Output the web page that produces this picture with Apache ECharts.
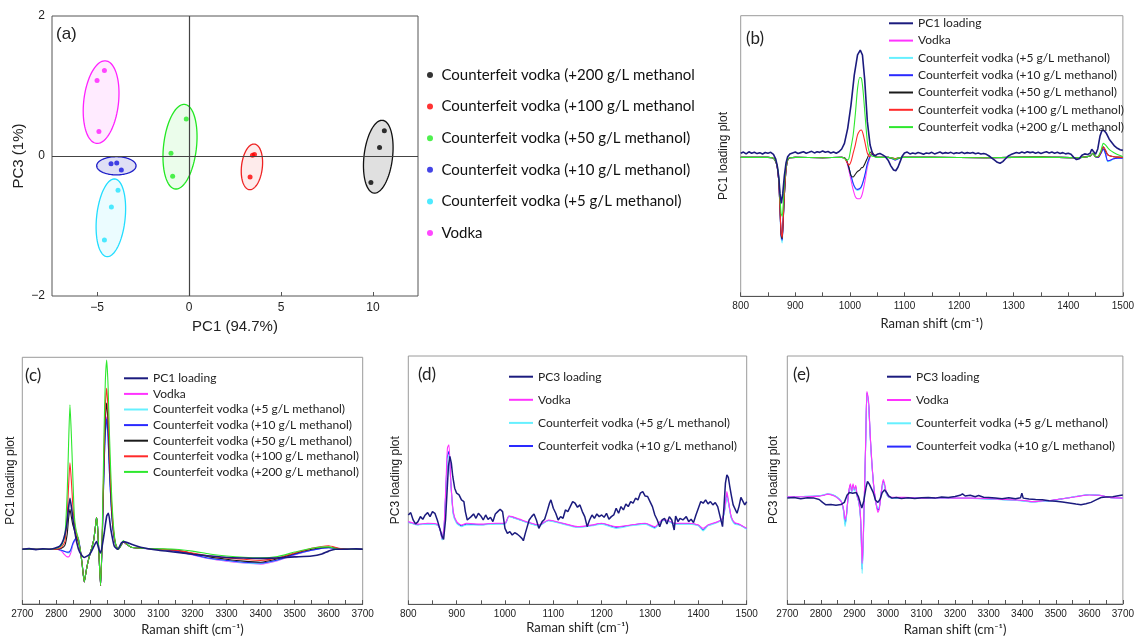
<!DOCTYPE html>
<html><head><meta charset="utf-8">
<script src="https://cdn.jsdelivr.net/npm/echarts@6/dist/echarts.min.js"></script>
<style>
html,body{margin:0;padding:0;background:#fff;width:1137px;height:637px;overflow:hidden}
.c{position:absolute;left:0;top:0;width:1137px;height:637px}
</style>
</head><body>
<div id="pa" class="c"></div><div id="pb" class="c"></div><div id="pc" class="c"></div><div id="pd" class="c"></div><div id="pe" class="c"></div>
<script>
// ---------- names ----------
const N_PC1 = 'PC1 loading', N_PC3 = 'PC3 loading', N_V = 'Vodka';
const N5 = 'Counterfeit vodka (+5 g/L methanol)', N10 = 'Counterfeit vodka (+10 g/L methanol)';
const N50 = 'Counterfeit vodka (+50 g/L methanol)', N100 = 'Counterfeit vodka (+100 g/L methanol)', N200 = 'Counterfeit vodka (+200 g/L methanol)';
const A200 = 'Counterfeit vodka (+200 g/L methanol', A100 = 'Counterfeit vodka (+100 g/L methanol';

// ---------- panel (a): PCA scores [PC1, PC3] ----------
const aBlack = [[10.62, 0.36], [10.36, 0.12], [9.89, -0.38]];
const aRed = [[3.45, 0.01], [3.56, 0.02], [3.32, -0.30]];
const aGreen = [[-0.15, 0.53], [-0.98, 0.04], [-0.89, -0.29]];
const aBlue = [[-4.24, -0.11], [-3.93, -0.10], [-3.68, -0.20]];
const aCyan = [[-3.86, -0.49], [-4.22, -0.73], [-4.60, -1.20]];
const aMagenta = [[-4.60, 1.22], [-5.00, 1.08], [-4.90, 0.35]];
// confidence ellipses: [centre PC1, centre PC3, half-width PC1, half-height PC3, skew PC1]
const eBlack = [10.29, -0.01, 0.78, 0.52, 0.20];
const eRed = [3.42, -0.155, 0.57, 0.326, 0.11];
const eGreen = [-0.49, 0.133, 0.90, 0.605, 0.22];
const eBlue = [-3.95, -0.14, 1.07, 0.13, 0.0];
const eCyan = [-4.25, -0.883, 0.78, 0.555, 0.19];
const eMagenta = [-4.78, 0.77, 0.95, 0.59, 0.21];
const aXTicks = [-5, 0, 5, 10];

// ---------- panel (b): 800-1500 cm-1, PC1 ----------
const bX = [800, 850, 858, 863, 867, 870, 872, 874, 876, 878, 880, 883, 886, 890, 900, 950, 985, 990, 994, 998,
  1002, 1006, 1010, 1014, 1018, 1021, 1024, 1028, 1032, 1036, 1040, 1045, 1050, 1070, 1078, 1083, 1088, 1095, 1150, 1250,
  1350, 1415, 1425, 1440, 1445, 1450, 1455, 1460, 1464, 1468, 1472, 1477, 1483, 1490, 1500];
const bVodka = [-0.01, -0.01, -0.012, -0.03, -0.08, -0.2, -0.38, -0.55, -0.6, -0.45, -0.28, -0.1, -0.03, -0.012, -0.01, -0.012, -0.01, -0.012, -0.04, -0.1,
  -0.17, -0.24, -0.29, -0.305, -0.305, -0.29, -0.25, -0.17, -0.08, -0.02, 0.015, 0.0, -0.01, -0.01, -0.02, -0.03, -0.02, -0.01, -0.01, -0.012,
  -0.008, -0.012, -0.01, 0.0, 0.02, -0.005, -0.01, 0.02, 0.055, 0.02, -0.035, -0.03, -0.02, -0.015, -0.015];
const bM5 = [-0.01, -0.01, -0.012, -0.03, -0.08, -0.2, -0.4, -0.58, -0.62, -0.46, -0.28, -0.1, -0.03, -0.012, -0.01, -0.012, -0.01, -0.012, -0.035, -0.08,
  -0.14, -0.2, -0.235, -0.245, -0.24, -0.225, -0.19, -0.13, -0.06, -0.01, 0.015, 0.0, -0.01, -0.01, -0.02, -0.028, -0.02, -0.01, -0.01, -0.012,
  -0.008, -0.012, -0.01, 0.0, 0.02, -0.005, -0.01, 0.02, 0.05, 0.015, -0.04, -0.035, -0.02, -0.015, -0.015];
const bM10 = [-0.01, -0.01, -0.012, -0.03, -0.08, -0.2, -0.39, -0.57, -0.6, -0.45, -0.28, -0.1, -0.03, -0.012, -0.01, -0.012, -0.01, -0.012, -0.035, -0.08,
  -0.14, -0.195, -0.228, -0.238, -0.232, -0.218, -0.185, -0.125, -0.055, -0.01, 0.015, 0.0, -0.01, -0.01, -0.02, -0.028, -0.02, -0.01, -0.01, -0.012,
  -0.008, -0.012, -0.01, 0.0, 0.02, -0.005, -0.01, 0.02, 0.05, 0.018, -0.035, -0.03, -0.02, -0.015, -0.015];
const bM50 = [-0.01, -0.01, -0.012, -0.03, -0.08, -0.2, -0.38, -0.56, -0.59, -0.45, -0.28, -0.1, -0.03, -0.012, -0.01, -0.012, -0.01, -0.012, -0.03, -0.08,
  -0.14, -0.15, -0.13, -0.11, -0.1, -0.085, -0.08, -0.05, -0.015, 0.02, 0.03, 0.005, -0.01, -0.01, -0.015, -0.02, -0.015, -0.01, -0.01, -0.012,
  -0.008, -0.012, -0.01, 0.0, 0.02, -0.005, -0.005, 0.03, 0.066, 0.04, 0.01, 0.0, -0.005, -0.008, -0.01];
const bM100 = [-0.01, -0.01, -0.012, -0.03, -0.08, -0.2, -0.38, -0.55, -0.58, -0.44, -0.27, -0.1, -0.03, -0.012, -0.01, -0.012, -0.01, -0.015, -0.04, -0.065,
  -0.04, 0.02, 0.08, 0.15, 0.18, 0.185, 0.16, 0.09, 0.02, -0.005, 0.02, 0.005, -0.01, -0.01, -0.015, -0.02, -0.015, -0.01, -0.01, -0.012,
  -0.008, -0.012, -0.01, 0.0, 0.02, -0.005, -0.005, 0.03, 0.066, 0.045, 0.01, 0.0, -0.005, -0.008, -0.01];
const bM200 = [-0.01, -0.01, -0.012, -0.03, -0.07, -0.16, -0.3, -0.41, -0.43, -0.34, -0.2, -0.08, -0.025, -0.012, -0.01, -0.012, -0.01, -0.015, -0.03, -0.02,
  0.06, 0.15, 0.3, 0.48, 0.56, 0.555, 0.47, 0.28, 0.1, 0.02, 0.0, -0.005, -0.01, -0.01, -0.015, -0.025, -0.015, -0.01, -0.01, -0.012,
  -0.008, -0.012, -0.01, 0.0, 0.02, -0.005, 0.0, 0.04, 0.09, 0.08, 0.06, 0.04, 0.025, 0.01, -0.005];
const bPC1 = [[800,0.02],[805,0.028],[810,0.015],[815,0.03],[820,0.02],[825,0.027],[830,0.017],[835,0.024],[840,0.014],[845,0.025],[850,0.02],[855,0.026],
  [860,0.012],[864,-0.02],[867,-0.07],[870,-0.16],[872,-0.27],[874.5,-0.337],[877,-0.27],[880,-0.14],[883,-0.05],[886,-0.005],[890,0.015],[895,0.022],
  [900,0.028],[905,0.018],[910,0.024],[915,0.03],[920,0.02],[925,0.026],[930,0.033],[935,0.022],[940,0.03],[945,0.026],[950,0.036],[955,0.027],[960,0.032],
  [965,0.021],[970,0.028],[975,0.02],[980,0.03],[985,0.05],[990,0.09],[996,0.197],[1002,0.363],[1008,0.577],[1014,0.72],[1019,0.755],[1023,0.72],
  [1027,0.55],[1032,0.245],[1037,0.078],[1042,0.01],[1046,0.002],[1050,0.012],[1055,0.018],[1060,0.008],[1065,-0.005],[1070,-0.03],[1075,-0.07],
  [1080,-0.1],[1084,-0.105],[1088,-0.08],[1092,-0.04],[1096,0.0],[1100,0.022],[1105,0.028],[1110,0.015],[1115,0.022],[1120,0.016],[1125,0.025],[1130,0.02],
  [1135,0.012],[1140,0.022],[1145,0.018],[1150,0.026],[1155,0.015],[1160,0.022],[1165,0.028],[1170,0.018],[1175,0.024],[1180,0.02],[1185,0.026],[1190,0.017],
  [1195,0.023],[1200,0.02],[1205,0.027],[1210,0.018],[1215,0.024],[1220,0.02],[1225,0.025],[1230,0.016],[1235,0.021],[1240,0.014],[1245,0.018],[1250,0.012],
  [1255,0.0],[1260,-0.015],[1265,-0.03],[1270,-0.045],[1275,-0.052],[1280,-0.04],[1285,-0.02],[1290,0.0],[1295,0.01],[1300,0.018],[1305,0.025],[1310,0.02],
  [1315,0.028],[1320,0.022],[1325,0.03],[1330,0.024],[1335,0.028],[1340,0.02],[1345,0.027],[1350,0.018],[1355,0.025],[1360,0.03],[1365,0.022],[1370,0.028],
  [1375,0.02],[1380,0.026],[1385,0.018],[1390,0.024],[1395,0.015],[1400,0.02],[1405,0.012],[1410,-0.01],[1415,-0.025],[1420,-0.02],[1425,0.005],[1430,0.015],
  [1435,0.01],[1440,0.02],[1443,0.048],[1446,0.035],[1450,0.012],[1454,0.05],[1458,0.14],[1462,0.185],[1466,0.18],[1470,0.16],[1475,0.12],[1480,0.095],
  [1485,0.07],[1490,0.055],[1495,0.045],[1500,0.04]];

// ---------- panel (c): 2700-3700 cm-1, PC1 ----------
const cX = [2700, 2780, 2800, 2815, 2825, 2832, 2836, 2840, 2844, 2848, 2853, 2858, 2864, 2870, 2876, 2882, 2888, 2895, 2903, 2910,
  2915, 2918, 2921, 2925, 2930, 2935, 2940, 2944, 2948, 2952, 2956, 2962, 2968, 2975, 2982, 2990, 2997, 3005, 3020, 3050,
  3100, 3150, 3200, 3250, 3300, 3350, 3400, 3450, 3500, 3550, 3600, 3630, 3660, 3700];
const cM200 = [0, 0, 0.005, 0.02, 0.07, 0.3, 0.55, 0.752, 0.6, 0.4, 0.17, 0.1, 0.06, 0.0, -0.08, -0.17, -0.11, -0.05, 0.0, 0.05,
  0.12, 0.165, 0.12, -0.02, -0.19, 0.1, 0.6, 0.88, 0.986, 0.85, 0.6, 0.3, 0.12, 0.02, 0.0, 0.02, 0.045, 0.03, 0.01, 0.005,
  0.002, 0.0, -0.01, -0.025, -0.035, -0.042, -0.045, -0.038, -0.015, 0.005, 0.012, 0.0, 0.0, 0.0];
const cM100 = [0, 0, 0.0, 0.01, 0.04, 0.18, 0.33, 0.45, 0.36, 0.24, 0.14, 0.09, 0.05, 0.0, -0.08, -0.17, -0.11, -0.05, 0.0, 0.05,
  0.12, 0.165, 0.12, -0.02, -0.19, 0.08, 0.5, 0.75, 0.839, 0.72, 0.5, 0.25, 0.1, 0.02, 0.0, 0.02, 0.04, 0.028, 0.01, 0.005,
  0.0, -0.005, -0.02, -0.035, -0.045, -0.052, -0.058, -0.045, -0.02, 0.005, 0.018, 0.005, 0.0, 0.0];
const cM50 = [0, 0, 0.0, 0.005, 0.02, 0.08, 0.16, 0.208, 0.17, 0.13, 0.1, 0.07, 0.04, 0.0, -0.08, -0.17, -0.11, -0.05, 0.0, 0.05,
  0.12, 0.165, 0.12, -0.02, -0.19, 0.07, 0.45, 0.68, 0.761, 0.65, 0.45, 0.22, 0.09, 0.02, 0.0, 0.02, 0.04, 0.028, 0.01, 0.005,
  0.0, -0.005, -0.022, -0.04, -0.052, -0.062, -0.068, -0.05, -0.022, 0.0, 0.01, 0.003, 0.0, 0.0];
const cVodka = [0, 0, 0.0, -0.01, -0.03, -0.04, -0.04, -0.03, -0.01, 0.02, 0.04, 0.055, 0.06, 0.0, -0.08, -0.17, -0.11, -0.05, 0.0, 0.05,
  0.12, 0.165, 0.12, -0.02, -0.19, 0.06, 0.42, 0.62, 0.69, 0.59, 0.41, 0.2, 0.08, 0.02, 0.0, 0.02, 0.04, 0.028, 0.01, 0.005,
  0.0, -0.01, -0.03, -0.05, -0.063, -0.072, -0.078, -0.06, -0.03, -0.005, 0.008, 0.003, 0.0, 0.0];
const cM5 = [0, 0, 0.0, -0.005, -0.012, -0.018, -0.02, -0.015, 0.0, 0.025, 0.045, 0.058, 0.06, 0.0, -0.08, -0.17, -0.11, -0.05, 0.0, 0.05,
  0.12, 0.165, 0.12, -0.02, -0.19, 0.06, 0.4, 0.6, 0.665, 0.57, 0.4, 0.2, 0.08, 0.02, 0.0, 0.02, 0.04, 0.028, 0.01, 0.005,
  0.0, -0.01, -0.028, -0.048, -0.06, -0.07, -0.075, -0.058, -0.028, -0.005, 0.008, 0.003, 0.0, 0.0];
const cM10 = [0, 0, 0.0, -0.005, -0.012, -0.015, -0.015, -0.01, 0.005, 0.028, 0.046, 0.058, 0.06, 0.0, -0.08, -0.17, -0.11, -0.05, 0.0, 0.05,
  0.12, 0.165, 0.12, -0.02, -0.19, 0.06, 0.41, 0.61, 0.68, 0.58, 0.4, 0.2, 0.08, 0.02, 0.0, 0.02, 0.04, 0.028, 0.01, 0.005,
  0.0, -0.01, -0.028, -0.047, -0.058, -0.068, -0.072, -0.056, -0.027, -0.005, 0.008, 0.003, 0.0, 0.0];
const cPC1 = [[2700,0],[2720,0.003],[2740,-0.002],[2760,0.002],[2780,0],[2795,0.005],[2811,0.017],[2821,0.05],[2830,0.12],[2835,0.2],[2840,0.265],
  [2845,0.21],[2850,0.14],[2860,0.035],[2869,-0.017],[2882,-0.043],[2898,-0.026],[2911,0.017],[2918,0.04],[2925,0.0],[2930,-0.02],[2938,0.052],
  [2948,0.173],[2953,0.187],[2960,0.104],[2970,0.017],[2980,0.0],[2992,0.035],[3001,0.038],[3021,0.026],[3051,0.009],[3100,-0.005],[3150,-0.015],
  [3200,-0.026],[3250,-0.035],[3300,-0.043],[3350,-0.046],[3400,-0.048],[3450,-0.045],[3500,-0.04],[3550,-0.035],[3580,-0.025],[3600,-0.01],
  [3620,0],[3650,0],[3680,0.002],[3700,0]];

// ---------- panel (d): 800-1500 cm-1, PC3 ----------
const dX = [800, 820, 840, 860, 866, 870, 874, 878, 881, 884, 888, 893, 900, 910, 920, 950, 980, 1000, 1008, 1015,
  1030, 1050, 1070, 1090, 1100, 1120, 1150, 1180, 1200, 1230, 1260, 1290, 1310, 1325, 1335, 1350, 1380, 1400, 1410, 1420,
  1440, 1450, 1455, 1459, 1463, 1468, 1475, 1485, 1500];
const dVodka = [0.01, -0.005, 0.0, -0.005, -0.04, -0.09, -0.02, 0.25, 0.45, 0.47, 0.25, 0.07, 0.01, -0.01, 0.0, -0.005, 0.0, 0.0, 0.044, 0.04,
  0.025, 0.005, -0.01, 0.02, 0.015, 0.0, -0.02, -0.01, 0.0, -0.02, -0.01, 0.0, -0.02, 0.02, 0.02, 0.0, 0.0, -0.01, -0.03, -0.01,
  0.01, 0.03, 0.1, 0.19, 0.12, 0.04, 0.005, -0.005, -0.03];
const dM5 = [0.005, -0.01, -0.005, -0.01, -0.04, -0.1, -0.03, 0.2, 0.38, 0.41, 0.24, 0.05, 0.0, -0.02, -0.01, -0.01, -0.005, -0.005, 0.04, 0.035,
  0.02, 0.0, -0.015, 0.015, 0.01, -0.005, -0.025, -0.015, -0.005, -0.03, -0.015, -0.005, -0.03, 0.015, 0.015, -0.005, -0.005, -0.015, -0.045, -0.015,
  0.005, 0.025, 0.08, 0.16, 0.11, 0.03, -0.005, -0.01, -0.035];
const dM10 = [0.006, -0.008, -0.004, -0.008, -0.04, -0.095, -0.025, 0.22, 0.4, 0.43, 0.24, 0.06, 0.005, -0.015, -0.005, -0.008, -0.002, -0.002, 0.042, 0.037,
  0.022, 0.002, -0.012, 0.017, 0.012, -0.002, -0.022, -0.012, -0.002, -0.025, -0.012, -0.002, -0.025, 0.017, 0.017, -0.002, -0.002, -0.012, -0.04, -0.012,
  0.008, 0.028, 0.09, 0.17, 0.115, 0.035, 0.0, -0.008, -0.032];
const dPC3 = [[800,0.05],[805,0.064],[810,0.02],[815,-0.004],[820,0.01],[825,0.04],[830,0.024],[835,0.05],[840,0.064],[845,0.04],[850,0.07],[855,0.06],
  [860,0.02],[865,-0.03],[870,-0.08],[873,-0.096],[877,0.02],[880,0.18],[883,0.34],[886,0.4],[889,0.36],[892,0.28],[896,0.21],[900,0.18],[905,0.17],
  [910,0.14],[915,0.13],[918,0.07],[922,0.02],[930,0.04],[935,0.056],[940,0.03],[945,0.06],[950,0.044],[955,0.02],[960,0.05],[965,0.024],[970,0.036],
  [975,0.01],[980,0.056],[985,0.07],[990,0.084],[995,0.07],[1000,-0.03],[1005,-0.06],[1010,-0.05],[1015,-0.07],[1020,-0.056],[1025,-0.064],[1030,-0.076],
  [1035,-0.09],[1038,-0.104],[1042,-0.06],[1045,-0.03],[1050,0.02],[1055,0.04],[1060,0.056],[1065,0.02],[1070,-0.03],[1073,-0.04],[1077,0.01],[1082,0.024],
  [1087,0.07],[1092,0.12],[1095,0.14],[1100,0.09],[1105,0.06],[1110,0.02],[1115,0.04],[1120,0.03],[1125,0.08],[1130,0.07],[1135,0.1],[1140,0.13],
  [1145,0.12],[1150,0.096],[1155,0.11],[1160,0.07],[1165,0.04],[1170,-0.02],[1175,0.02],[1180,0.05],[1185,0.03],[1190,0.056],[1195,0.04],[1200,0.05],
  [1205,0.036],[1210,0.06],[1215,0.024],[1220,0.04],[1225,0.05],[1230,0.09],[1235,0.06],[1240,0.1],[1245,0.08],[1250,0.116],[1255,0.1],[1260,0.13],
  [1265,0.12],[1270,0.15],[1275,0.14],[1280,0.18],[1285,0.19],[1290,0.163],[1295,0.16],[1300,0.13],[1305,0.1],[1310,0.05],[1315,0.02],[1320,-0.02],
  [1325,0.02],[1330,0.03],[1335,-0.004],[1340,0.04],[1345,0.02],[1350,-0.04],[1353,0.044],[1358,0.01],[1362,0.03],[1368,0.02],[1375,0.04],[1380,0.01],
  [1385,0.024],[1390,0.004],[1395,0.05],[1400,0.09],[1405,0.13],[1410,0.12],[1415,0.14],[1420,0.116],[1425,0.13],[1430,0.11],[1435,0.124],[1440,0.1],
  [1445,0.04],[1450,-0.02],[1453,0.1],[1456,0.24],[1459,0.29],[1462,0.275],[1465,0.22],[1468,0.17],[1472,0.11],[1476,0.1],[1480,0.06],[1484,0.1],
  [1488,0.155],[1492,0.16],[1496,0.11],[1500,0.13]];

// ---------- panel (e): 2700-3700 cm-1, PC3 ----------
const eX = [2700, 2750, 2790, 2810, 2820, 2840, 2855, 2862, 2868, 2872, 2876, 2880, 2884, 2888, 2892, 2896, 2900, 2904, 2908, 2913,
  2918, 2921, 2923, 2926, 2930, 2934, 2937, 2940, 2943, 2947, 2952, 2957, 2962, 2966, 2970, 2974, 2978, 2982, 2986, 2990,
  2995, 3002, 3015, 3050, 3100, 3150, 3200, 3250, 3300, 3350, 3400, 3430, 3460, 3490, 3520, 3560, 3600, 3630, 3660, 3700];
const eVodka = [0.01, 0.01, 0.012, 0.02, 0.028, 0.015, -0.01, -0.03, -0.08, -0.15, -0.12, -0.02, 0.06, 0.1, 0.05, 0.1, 0.06, 0.09, 0.02, -0.02,
  -0.12, -0.3, -0.46, -0.3, 0.05, 0.45, 0.75, 0.72, 0.66, 0.45, 0.25, 0.1, 0.0, -0.06, -0.1, -0.08, 0.0, 0.08, 0.13, 0.1,
  0.04, 0.01, 0.005, 0.005, 0.0, 0.002, 0.0, 0.0, -0.003, -0.01, -0.015, -0.025, -0.02, -0.015, -0.005, 0.01, 0.022, 0.02, 0.005, 0.0];
const eM5 = [0.01, 0.012, 0.015, 0.025, 0.03, 0.02, -0.005, -0.03, -0.1, -0.2, -0.14, -0.03, 0.05, 0.08, 0.04, 0.08, 0.05, 0.07, 0.01, -0.03,
  -0.14, -0.35, -0.53, -0.35, 0.03, 0.42, 0.73, 0.7, 0.63, 0.43, 0.24, 0.09, -0.01, -0.05, -0.07, -0.06, 0.0, 0.07, 0.11, 0.08,
  0.03, 0.005, 0.0, 0.003, 0.0, 0.0, -0.002, -0.002, -0.006, -0.012, -0.02, -0.028, -0.024, -0.018, -0.005, 0.012, 0.025, 0.02, 0.005, 0.0];
const eM10 = [0.01, 0.011, 0.014, 0.022, 0.029, 0.018, -0.007, -0.03, -0.09, -0.18, -0.13, -0.025, 0.055, 0.09, 0.045, 0.09, 0.055, 0.08, 0.015, -0.025,
  -0.13, -0.33, -0.5, -0.33, 0.04, 0.43, 0.74, 0.71, 0.64, 0.44, 0.245, 0.095, -0.005, -0.055, -0.085, -0.07, 0.0, 0.075, 0.12, 0.09,
  0.035, 0.008, 0.002, 0.004, 0.0, 0.001, -0.001, -0.001, -0.005, -0.011, -0.018, -0.026, -0.022, -0.016, -0.005, 0.011, 0.024, 0.02, 0.005, 0.0];
const ePC3 = [[2700,0.0],[2720,0.005],[2740,-0.004],[2760,0.003],[2780,0.0],[2795,-0.01],[2805,-0.03],[2815,-0.047],[2830,-0.045],[2845,-0.05],
  [2860,-0.045],[2870,-0.03],[2878,0.02],[2885,0.04],[2895,0.035],[2905,0.04],[2912,0.01],[2918,-0.04],[2922,-0.07],[2928,-0.02],[2935,0.08],
  [2939,0.117],[2944,0.1],[2950,0.07],[2956,0.04],[2963,-0.015],[2970,-0.03],[2976,-0.01],[2983,0.04],[2990,0.058],[2996,0.04],[3002,0.015],
  [3012,0.0],[3025,0.005],[3040,-0.002],[3060,0.003],[3080,-0.003],[3100,0.002],[3120,0.005],[3140,0.0],[3160,0.008],[3180,0.004],[3200,0.012],
  [3215,0.02],[3222,0.03],[3230,0.015],[3245,0.02],[3260,0.01],[3270,0.018],[3285,0.006],[3300,0.004],[3320,0.0],[3340,-0.004],[3360,0.002],
  [3380,-0.005],[3395,0.002],[3399,0.035],[3403,0.0],[3420,-0.006],[3440,-0.01],[3460,-0.012],[3480,-0.018],[3500,-0.022],[3520,-0.028],
  [3540,-0.035],[3560,-0.042],[3575,-0.047],[3590,-0.04],[3605,-0.03],[3620,-0.012],[3635,0.004],[3650,0.008],[3670,0.01],[3690,0.018],[3700,0.022]];

// ---------- styling ----------
const SANS = '"Liberation Sans", Arial, sans-serif';
const CAL = 'Lato, "Open Sans", sans-serif';
const C = { navy: '#1b1b7e', mag: '#ff33ff', cyan: '#66f0ff', blue: '#2a2aff', black: '#1a1a1a', red: '#ff2a2a', green: '#2ee82e' };
const minus = v => String(v).replace('-', '\u2212');
const plain = v => String(v);

function mk(id, opt) {
  const ch = echarts.init(document.getElementById(id), null, { renderer: 'canvas' });
  opt.animation = false;
  ch.setOption(opt);
}
function zip(xs, ys) { return xs.map((x, i) => [x, ys[i]]); }
function ln(name, data, color, width, smooth) {
  return { type: 'line', name, data, symbol: 'none', showSymbol: false, smooth: smooth || false,
    lineStyle: { color, width }, itemStyle: { color }, color, emphasis: { disabled: true }, silent: true };
}
function spectrumAxes(grid, min, max, nameGap) {
  return {
    grid: Object.assign({ show: true, borderColor: '#9a9a9a', borderWidth: 1, containLabel: false }, grid),
    xAxis: { type: 'value', min, max, interval: 100,
      axisLine: { show: true, onZero: false, lineStyle: { color: '#555', width: 1 } },
      axisTick: { show: true, inside: true, length: 4, lineStyle: { color: '#555' } },
      minorTick: { show: true, splitNumber: 2, length: 4, lineStyle: { color: '#555' } },
      axisLabel: { formatter: plain, fontFamily: SANS, fontSize: 10, color: '#222', margin: 5 },
      splitLine: { show: false },
      name: 'Raman shift (cm\u207B\u00B9)', nameLocation: 'middle', nameGap,
      nameTextStyle: { fontFamily: CAL, fontSize: 13, color: '#222' } },
  };
}
function yAx(min, max, name, gap) {
  return { type: 'value', min, max, axisLine: { show: false, onZero: false }, axisTick: { show: false }, axisLabel: { show: false },
    splitLine: { show: false }, name, nameLocation: 'middle', nameGap: gap,
    nameTextStyle: { fontFamily: SANS, fontSize: 12, color: '#222' } };
}
function lgd(names, left, top, gap) {
  return { data: names, orient: 'vertical', left, top, padding: 0, icon: 'rect', itemWidth: 24, itemHeight: 2, itemGap: gap,
    selectedMode: false, textStyle: { fontFamily: CAL, fontSize: 12, color: '#222', lineHeight: 14 } };
}
function label(text, x, y, family) {
  return { type: 'text', left: x, top: y, style: { text, font: '17px ' + (family || CAL), fill: '#222' } };
}

// ---------- (a) ----------
function ell(name, e, stroke, fill) {
  return { type: 'custom', name, data: [e], z: 1, silent: true,
    renderItem: (p, api) => {
      const cx = api.value(0), cy = api.value(1), rx = api.value(2), ry = api.value(3), sk = api.value(4);
      const pts = [];
      for (let k = 0; k <= 90; k++) {
        const t = k / 90 * 2 * Math.PI;
        pts.push(api.coord([cx + rx * Math.cos(t) + sk * Math.sin(t), cy + ry * Math.sin(t)]));
      }
      return { type: 'polygon', shape: { points: pts }, style: { fill, stroke, lineWidth: 1.3 } };
    } };
}
function sc(name, data, color) {
  return { type: 'scatter', name, data, symbolSize: 5, itemStyle: { color }, z: 3, silent: true };
}
const aSeries = [
  ell('eBlack', eBlack, '#111', 'rgba(0,0,0,0.12)'),
  ell('eRed', eRed, '#ee2222', 'rgba(240,0,0,0.08)'),
  ell('eGreen', eGreen, '#22e822', 'rgba(0,230,0,0.08)'),
  ell('eBlue', eBlue, '#1e1ec8', 'rgba(40,40,190,0.15)'),
  ell('eCyan', eCyan, '#22ddff', 'rgba(0,220,255,0.08)'),
  ell('eMagenta', eMagenta, '#ff22ff', 'rgba(255,0,255,0.08)'),
  sc(A200, aBlack, '#000'), sc(A100, aRed, '#ff0000'), sc(N50, aGreen, '#22ee22'),
  sc(N10, aBlue, '#1515e0'), sc(N5, aCyan, '#22e5ff'), sc(N_V, aMagenta, '#ff1aff'),
];
aSeries[6].markLine = { silent: true, symbol: 'none', label: { show: false }, animation: false,
  lineStyle: { color: '#444', width: 1.2, type: 'solid' }, data: [{ xAxis: 0 }, { yAxis: 0 }] };
mk('pa', {
  grid: { left: 52, top: 16, width: 366, height: 280, show: true, borderColor: '#555', borderWidth: 1 },
  xAxis: { type: 'value', min: -7.45, max: 12.45, axisLine: { show: false, onZero: false },
    axisTick: { show: true, inside: true, length: 4, customValues: aXTicks, lineStyle: { color: '#555' } },
    axisLabel: { customValues: aXTicks, formatter: minus, fontFamily: SANS, fontSize: 12, color: '#222', margin: 6 },
    splitLine: { show: false }, name: 'PC1 (94.7%)', nameLocation: 'middle', nameGap: 23,
    nameTextStyle: { fontFamily: SANS, fontSize: 15, color: '#222' } },
  yAxis: { type: 'value', min: -2, max: 2, interval: 2, axisLine: { show: false, onZero: false }, axisTick: { show: false },
    axisLabel: { formatter: minus, fontFamily: SANS, fontSize: 12, color: '#222', margin: 7 },
    splitLine: { show: false }, name: 'PC3 (1%)', nameLocation: 'middle', nameGap: 26,
    nameTextStyle: { fontFamily: SANS, fontSize: 15, color: '#222' } },
  legend: { data: [A200, A100, N50, N10, N5, N_V], orient: 'vertical', left: 427, top: 66, padding: 0,
    itemWidth: 13, itemHeight: 6, itemGap: 13.6, icon: 'circle', selectedMode: false,
    textStyle: { fontFamily: CAL, fontSize: 15, color: '#111', lineHeight: 18 } },
  graphic: [label('(a)', 56, 26, SANS)],
  series: aSeries,
});

// ---------- (b) ----------
mk('pb', Object.assign(spectrumAxes({ left: 740.7, top: 15.7, width: 384.3, height: 280.6 }, 800, 1500, 21), {
  yAxis: yAx(-1, 1, 'PC1 loading plot', 11),
  legend: lgd([N_PC1, N_V, N5, N10, N50, N100, N200], 889, 16.3, 3.3),
  graphic: [label('(b)', 746, 30)],
  series: [
    ln(N_V, zip(bX, bVodka), C.mag, 1.1, 0.2), ln(N5, zip(bX, bM5), C.cyan, 1.1, 0.2), ln(N10, zip(bX, bM10), C.blue, 1.1, 0.2),
    ln(N50, zip(bX, bM50), C.black, 1.1, 0.2), ln(N100, zip(bX, bM100), C.red, 1.1, 0.2), ln(N200, zip(bX, bM200), C.green, 1.1, 0.2),
    ln(N_PC1, bPC1, C.navy, 1.6),
  ],
}));

// ---------- (c) ----------
mk('pc', Object.assign(spectrumAxes({ left: 22.3, top: 357.3, width: 340.4, height: 247.7 }, 2700, 3700, 19), {
  yAxis: yAx(-0.2855, 1, 'PC1 loading plot', 6),
  legend: lgd([N_PC1, N_V, N5, N10, N50, N100, N200], 124, 371.3, 1.6),
  graphic: [label('(c)', 25, 367)],
  series: [
    ln(N_V, zip(cX, cVodka), C.mag, 1.1, 0.2), ln(N5, zip(cX, cM5), C.cyan, 1.1, 0.2), ln(N10, zip(cX, cM10), C.blue, 1.1, 0.2),
    ln(N50, zip(cX, cM50), C.black, 1.1, 0.2), ln(N100, zip(cX, cM100), C.red, 1.1, 0.2), ln(N200, zip(cX, cM200), C.green, 1.1, 0.2),
    ln(N_PC1, cPC1, C.navy, 1.6, 0.2),
  ],
}));

// ---------- (d) ----------
mk('pd', Object.assign(spectrumAxes({ left: 408.3, top: 356, width: 338.4, height: 248.3 }, 800, 1500, 17), {
  yAxis: yAx(-0.484, 1, 'PC3 loading plot', 7),
  legend: lgd([N_PC3, N_V, N5, N10], 509, 369.7, 9.1),
  graphic: [label('(d)', 418, 366)],
  series: [
    ln(N10, zip(dX, dM10), C.blue, 1.1, 0.2), ln(N5, zip(dX, dM5), C.cyan, 1.1, 0.2), ln(N_V, zip(dX, dVodka), C.mag, 1.1, 0.2),
    ln(N_PC3, dPC3, C.navy, 1.5),
  ],
}));

// ---------- (e) ----------
mk('pe', Object.assign(spectrumAxes({ left: 787.3, top: 356, width: 339.4, height: 248.3 }, 2700, 3700, 19), {
  yAxis: yAx(-0.745, 1, 'PC3 loading plot', 8),
  legend: lgd([N_PC3, N_V, N5, N10], 887, 369.7, 9.3),
  graphic: [label('(e)', 793, 366)],
  series: [
    ln(N10, zip(eX, eM10), C.blue, 1.1, 0.2), ln(N5, zip(eX, eM5), C.cyan, 1.1, 0.2), ln(N_V, zip(eX, eVodka), C.mag, 1.1, 0.2),
    ln(N_PC3, ePC3, C.navy, 1.5),
  ],
}));
</script>
</body></html>
